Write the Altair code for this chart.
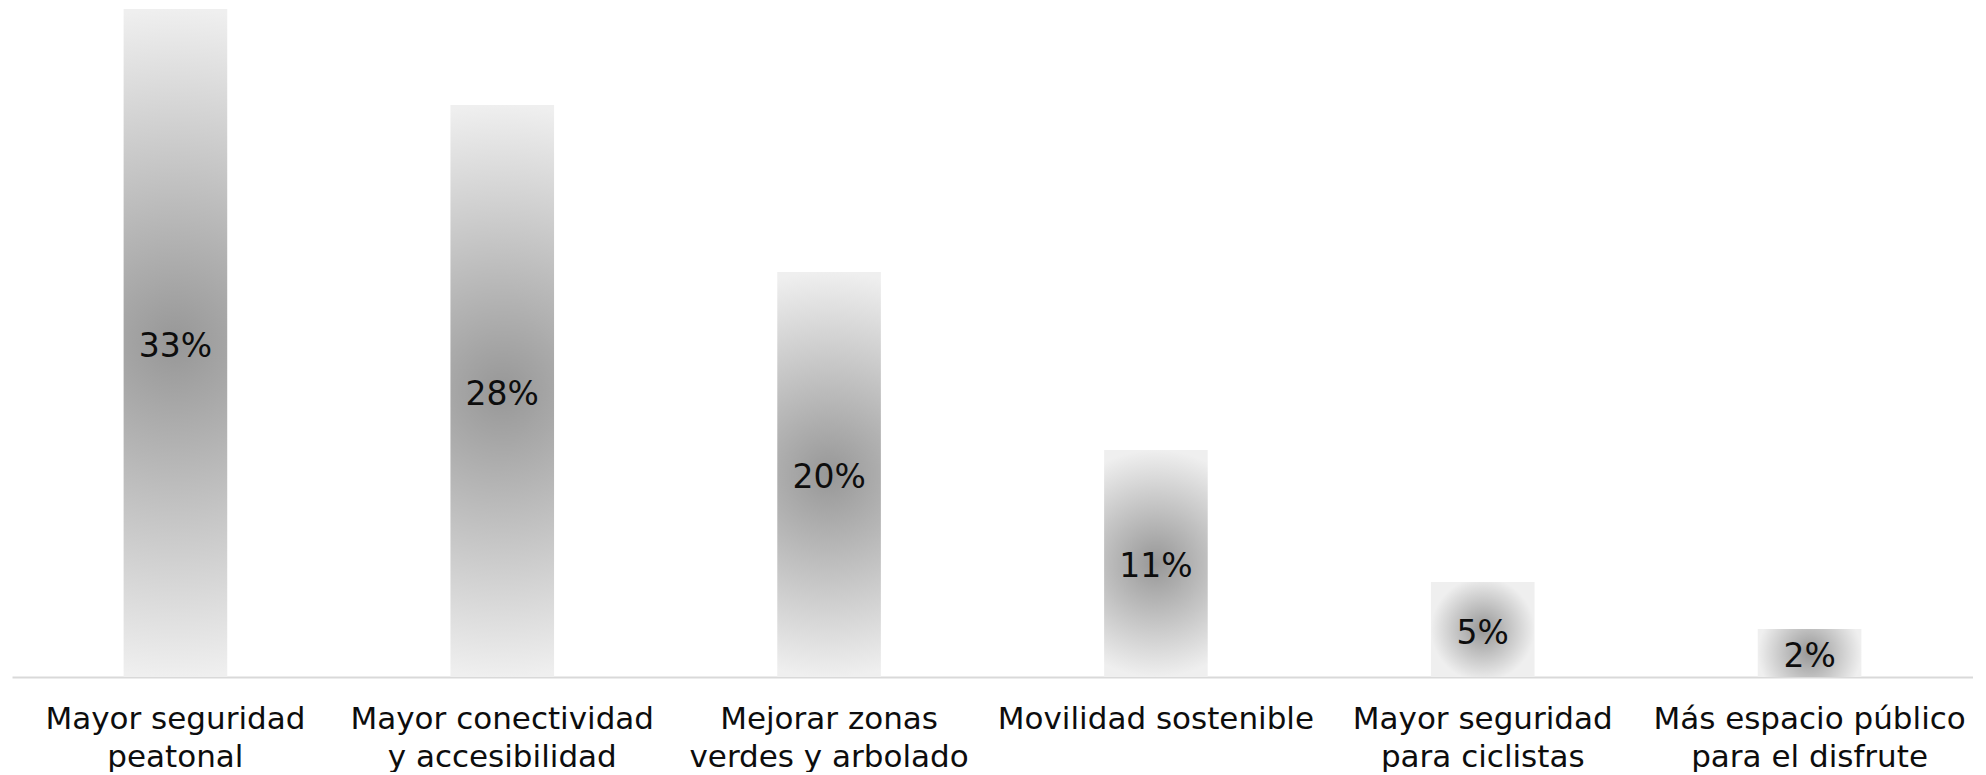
import altair as alt
import pandas as pd

categories = [
    "Mayor seguridad\npeatonal",
    "Mayor conectividad\ny accesibilidad",
    "Mejorar zonas\nverdes y arbolado",
    "Movilidad sostenible",
    "Mayor seguridad\npara ciclistas",
    "Más espacio público\npara el disfrute",
]
shares = [0.3315, 0.2839, 0.2010, 0.1127, 0.0471, 0.0238]

df = pd.DataFrame({"categoria": categories, "valor": shares})

FONT = "Century Gothic, DejaVu Sans, sans-serif"
TEXT_COLOR = "#0d0d0d"

gradient = {
    "gradient": "radial",
    "x1": 0.5, "y1": 0.5, "r1": 0,
    "x2": 0.5, "y2": 0.5, "r2": 0.5,
    "stops": [
        {"offset": 0, "color": "#979797"},
        {"offset": 1, "color": "#efefef"},
    ],
}

x_enc = alt.X(
    "categoria:N",
    sort=categories,
    scale=alt.Scale(paddingInner=0.683, paddingOuter=0.3415),
    axis=alt.Axis(
        title=None,
        labelAngle=0,
        labelExpr="split(datum.label, '\\n')",
        labelFont=FONT,
        labelFontSize=31,
        labelColor=TEXT_COLOR,
        labelPadding=27,
        labelLineHeight=38,
        labelLimit=500,
        labelOverlap=False,
        domainColor="#d9d9d9",
        domainWidth=2,
        ticks=False,
        grid=False,
    ),
)

y_enc = alt.Y(
    "valor:Q",
    scale=alt.Scale(domain=[0, 0.332], nice=False, zero=True),
    axis=None,
)

base = alt.Chart(df)

bars = base.mark_bar(color=gradient).encode(x=x_enc, y=y_enc)

labels = (
    base.transform_calculate(mid="datum.valor / 2")
    .mark_text(font=FONT, fontSize=33, baseline="middle", align="center",
               dy=4, color=TEXT_COLOR)
    .encode(
        x=alt.X("categoria:N", sort=categories),
        y=alt.Y("mid:Q"),
        text=alt.Text("valor:Q", format=".0%"),
    )
)

chart = (
    alt.layer(bars, labels)
    .properties(
        width=1961,
        height=669,
        padding={"left": 4, "top": 0, "right": 0, "bottom": 0},
        background="white",
    )
    .configure_view(stroke=None)
)

chart.save("out.html", embed_options={"renderer": "svg", "actions": False})
